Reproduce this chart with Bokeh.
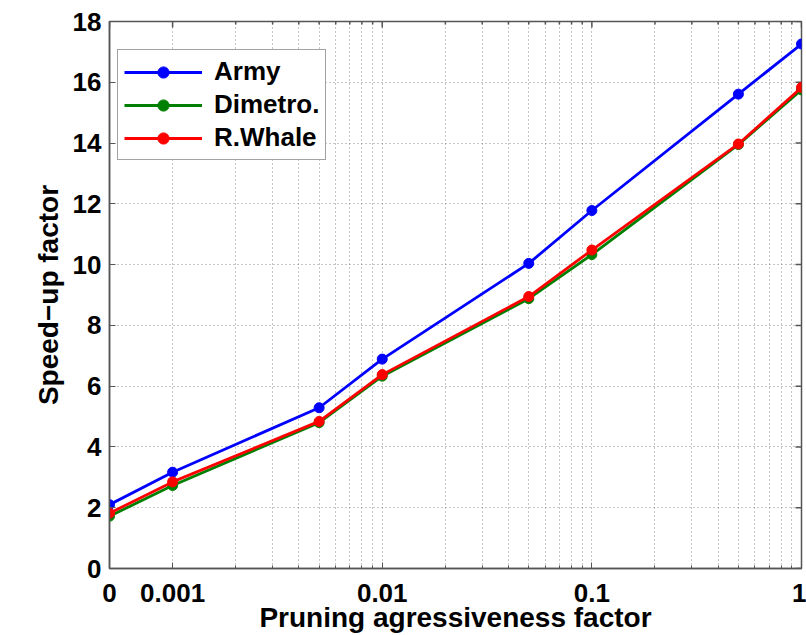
from bokeh.plotting import figure
from bokeh.models import Range1d, FixedTicker, Legend, LegendItem
from bokeh.embed import file_html
from bokeh.resources import INLINE

# ---- data ----
x_vals = [0.0005, 0.001, 0.005, 0.01, 0.05, 0.1, 0.5, 1.0]
army = [2.10, 3.17, 5.29, 6.89, 10.04, 11.78, 15.61, 17.26]
dimetro = [1.72, 2.73, 4.80, 6.33, 8.88, 10.33, 13.95, 15.75]
rwhale = [1.82, 2.85, 4.84, 6.38, 8.95, 10.48, 13.97, 15.83]

series_names = ["Army", "Dimetro.", "R.Whale"]
series_colors = ["#0000ff", "#008000", "#ff0000"]

x_major = [0.0005, 0.001, 0.01, 0.1, 1.0]
x_labels = ["0", "0.001", "0.01", "0.1", "1"]
x_minor = [0.002, 0.003, 0.004, 0.005, 0.006, 0.007, 0.008, 0.009,
           0.02, 0.03, 0.04, 0.05, 0.06, 0.07, 0.08, 0.09,
           0.2, 0.3, 0.4, 0.5, 0.6, 0.7, 0.8, 0.9]
y_ticks = [0, 2, 4, 6, 8, 10, 12, 14, 16, 18]

x_title = "Pruning agressiveness factor"
y_title = "Speed\u2212up factor"

X_MIN, X_MAX = 0.0005, 1.0
Y_MIN, Y_MAX = 0, 18

FONT = "Liberation Sans"
AX_COLOR = "#555555"
FS = "26px"
FS_TITLE = "28px"

FRAME_H = 635 - 21 - 67

p = figure(width=806, height=635, x_axis_type="log",
           x_range=Range1d(X_MIN, X_MAX), y_range=Range1d(Y_MIN, Y_MAX),
           output_backend="svg", toolbar_location=None,
           min_border_left=109, min_border_right=5,
           min_border_top=21, min_border_bottom=67)

p.outline_line_color = AX_COLOR
p.outline_line_width = 1.5
p.background_fill_color = "white"
p.border_fill_color = "white"

xticker = FixedTicker(ticks=x_major, minor_ticks=x_minor)
yticker = FixedTicker(ticks=y_ticks, minor_ticks=[])

overrides = {v: s for v, s in zip(x_major, x_labels)}

def style_axis(ax):
    ax.axis_line_color = AX_COLOR
    ax.axis_line_width = 1.5
    ax.major_tick_line_color = AX_COLOR
    ax.minor_tick_line_color = AX_COLOR
    ax.major_tick_in = 6
    ax.major_tick_out = 0
    ax.minor_tick_in = 3
    ax.minor_tick_out = 0
    ax.major_label_text_font = FONT
    ax.major_label_text_font_style = "bold"
    ax.major_label_text_font_size = FS
    ax.major_label_text_color = "black"
    ax.axis_label_text_font = FONT
    ax.axis_label_text_font_style = "bold"
    ax.axis_label_text_font_size = FS_TITLE
    ax.axis_label_text_color = "black"

xa = p.xaxis[0]
xa.ticker = xticker
xa.major_label_overrides = overrides
xa.axis_label = x_title
style_axis(xa)
xa.major_label_standoff = 15
xa.axis_label_standoff = -3

ya = p.yaxis[0]
ya.ticker = yticker
ya.axis_label = y_title
style_axis(ya)
ya.major_label_standoff = 8
ya.axis_label_standoff = 6

for g in (p.xgrid[0], p.ygrid[0]):
    g.grid_line_color = "#8a8a8a"
    g.grid_line_dash = "1 3"
    g.grid_line_width = 1
p.xgrid[0].ticker = xticker
p.ygrid[0].ticker = yticker
p.xgrid[0].minor_grid_line_color = "#8a8a8a"
p.xgrid[0].minor_grid_line_dash = "1 3"
p.xgrid[0].minor_grid_line_width = 1

# inward ticks on the top and right edges of the box (mirrors of the axes)
px_per_y = FRAME_H / (Y_MAX - Y_MIN)
px_per_decade = 210.0
major_len_y = 6.0 / px_per_y
minor_len_y = 3.0 / px_per_y
p.segment(x0=x_major, y0=[Y_MAX] * len(x_major), x1=x_major,
          y1=[Y_MAX - major_len_y] * len(x_major), line_color=AX_COLOR, line_width=1.5)
p.segment(x0=x_minor, y0=[Y_MAX] * len(x_minor), x1=x_minor,
          y1=[Y_MAX - minor_len_y] * len(x_minor), line_color=AX_COLOR, line_width=1.5)
x_tick_end = X_MAX * 10 ** (-6.0 / px_per_decade)
p.segment(x0=[X_MAX] * len(y_ticks), y0=y_ticks, x1=[x_tick_end] * len(y_ticks),
          y1=y_ticks, line_color=AX_COLOR, line_width=1.5)

items = []
for name, ys, col in zip(series_names, [army, dimetro, rwhale], series_colors):
    ln = p.line(x_vals, ys, line_color=col, line_width=2.8)
    sc = p.scatter(x_vals, ys, marker="circle", size=10, fill_color=col, line_color=col)
    items.append(LegendItem(label=name, renderers=[ln, sc]))

legend = Legend(items=items, location=(8, 408))
legend.label_text_font = FONT
legend.label_text_font_style = "bold"
legend.label_text_font_size = FS
legend.label_text_color = "black"
legend.glyph_width = 78
legend.glyph_height = 28
legend.label_height = 28
legend.label_standoff = 12
legend.spacing = 2
legend.padding = 6
legend.margin = 0
legend.border_line_color = "#444444"
legend.border_line_width = 1.5
legend.background_fill_color = "white"
legend.background_fill_alpha = 1.0
p.add_layout(legend, "center")

open("out.html", "w").write(file_html(p, INLINE))
